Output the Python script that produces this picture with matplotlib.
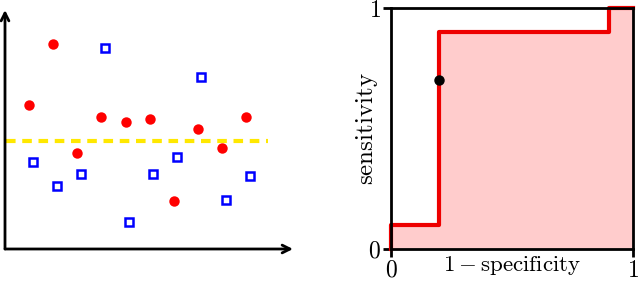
import numpy as np
import matplotlib
matplotlib.use("Agg")
import matplotlib.pyplot as plt

plt.rcParams['mathtext.fontset'] = 'cm'
plt.rcParams['font.family'] = 'serif'
plt.rcParams['font.serif'] = ['DejaVu Serif']

# left panel: two classes and a threshold
red_x = [1, 2, 3, 4, 5, 6, 7, 8, 9, 10]
red_y = [144, 205, 96, 132, 127, 130, 48, 120, 101, 132]
blue_x = [1.15, 2.15, 3.15, 4.15, 5.15, 6.15, 7.15, 8.15, 9.15, 10.15]
blue_y = [87, 63, 75, 201, 27, 75, 92, 172, 49, 73]
threshold = 108

# right panel: ROC step curve
roc_fpr = [0, 0, 0.2, 0.2, 0.9, 0.9, 1.0]
roc_tpr = [0, 0.1, 0.1, 0.9, 0.9, 1.0, 1.0]
op_point = (0.2, 0.7)

W, H = 640, 281
fig = plt.figure(figsize=(6.4, 2.81), dpi=100)

#_______________________________________________________________________________
ax1 = fig.add_axes([5 / W, (H - 249) / H, 288 / W, 239 / H])
ax1.set_xlim(0, 11.95)
ax1.set_ylim(0, 239)
ax1.axis('off')

arrow = dict(arrowstyle='->', lw=2, color='black', mutation_scale=14, shrinkA=0, shrinkB=0)
ax1.annotate('', xy=(1, 0), xytext=(0, 0), xycoords='axes fraction', arrowprops=arrow)
ax1.annotate('', xy=(0, 1), xytext=(0, 0), xycoords='axes fraction', arrowprops=arrow)

ax1.plot([0.05, 10.9], [threshold, threshold], color='#ffe800', lw=3,
         dashes=(2.3, 1.6), solid_capstyle='butt', zorder=1)
ax1.plot(red_x, red_y, 'o', color='#ff0000', ms=7.5, mec='none', zorder=3)
ax1.plot(blue_x, blue_y, 's', mfc='white', mec='#0000ff', ms=5.5, mew=1.8, zorder=3)

#_______________________________________________________________________________
ax2 = fig.add_axes([391 / W, (H - 249) / H, 242 / W, 241 / H])
ax2.set_xlim(0, 1)
ax2.set_ylim(0, 1)
ax2.fill_between(roc_fpr, roc_tpr, color='#ffcccc', lw=0)
ax2.plot(roc_fpr, roc_tpr, color='#ee0000', lw=3, clip_on=False, zorder=3)
ax2.plot(*op_point, 'o', color='black', ms=6.5, zorder=4)

for s in ax2.spines.values():
    s.set_linewidth(2)
    s.set_zorder(5)
ax2.set_xticks([0, 1])
ax2.set_yticks([0, 1])
ax2.set_xticklabels(['$0$', '$1$'])
ax2.set_yticklabels(['$0$', '$1$'])
ax2.tick_params(direction='out', length=6, width=2, labelsize=17, pad=1)
ax2.set_xlabel(r'$1-\mathrm{specificity}$', fontsize=16.5, labelpad=-20)
ax2.set_ylabel(r'$\mathrm{sensitivity}$', fontsize=18, labelpad=-8)

fig.savefig('out.png', dpi=100)
